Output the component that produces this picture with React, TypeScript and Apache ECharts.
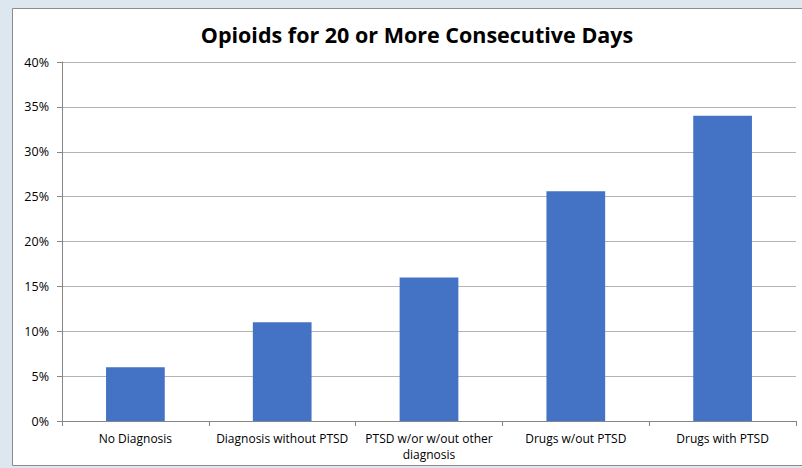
import React, { useEffect, useRef } from "react";
import * as echarts from "echarts";

const categories = [
  "No Diagnosis",
  "Diagnosis without PTSD",
  "PTSD w/or w/out other\ndiagnosis",
  "Drugs w/out PTSD",
  "Drugs with PTSD",
];
const values = [6.0, 11.0, 16.0, 25.6, 34.0];
const yTicks = [0, 5, 10, 15, 20, 25, 30, 35, 40];

export default function App() {
  const ref = useRef<HTMLDivElement>(null);
  useEffect(() => {
    if (!ref.current) return;
    const chart = echarts.init(ref.current, null, { renderer: "svg" });
    chart.setOption({
      animation: false,
      backgroundColor: "#dde7f0",
      textStyle: { fontFamily: "Open Sans" },
      graphic: [
        {
          type: "rect",
          shape: { x: 12.5, y: 8.5, width: 800, height: 457 },
          style: { fill: "#ffffff", stroke: "#8c8c8c", lineWidth: 1 },
          z: -10,
          silent: true,
        },
      ],
      title: {
        text: "Opioids for 20 or More Consecutive Days",
        left: 412,
        textAlign: "center",
        top: 18,
        textStyle: {
          fontFamily: "Open Sans",
          fontWeight: "bold",
          fontSize: 21.5,
          color: "#000000",
        },
      },
      grid: { left: 62, right: 6, top: 62, bottom: 47 },
      xAxis: {
        type: "category",
        data: categories,
        axisLine: { lineStyle: { color: "#868686" } },
        axisTick: { show: true, length: 5, lineStyle: { color: "#868686" } },
        axisLabel: {
          color: "#000000",
          fontSize: 12,
          margin: 9,
          lineHeight: 16,
          interval: 0,
        },
      },
      yAxis: {
        type: "value",
        min: 0,
        max: 40,
        interval: 5,
        axisLine: { show: true, lineStyle: { color: "#868686" } },
        axisTick: { show: true, length: 5, lineStyle: { color: "#868686" } },
        splitLine: { lineStyle: { color: "#b4b4b4" } },
        axisLabel: {
          color: "#000000",
          fontSize: 12.5,
          margin: 13,
          formatter: (v: number) => (yTicks.includes(v) ? v + "%" : ""),
        },
      },
      series: [
        {
          type: "bar",
          data: values,
          barWidth: "40%",
          itemStyle: { color: "#4472c4" },
        },
      ],
    });
    return () => chart.dispose();
  }, []);
  return (
    <div
      ref={ref}
      style={{ position: "fixed", left: 0, top: 0, width: 802, height: 468 }}
    />
  );
}
